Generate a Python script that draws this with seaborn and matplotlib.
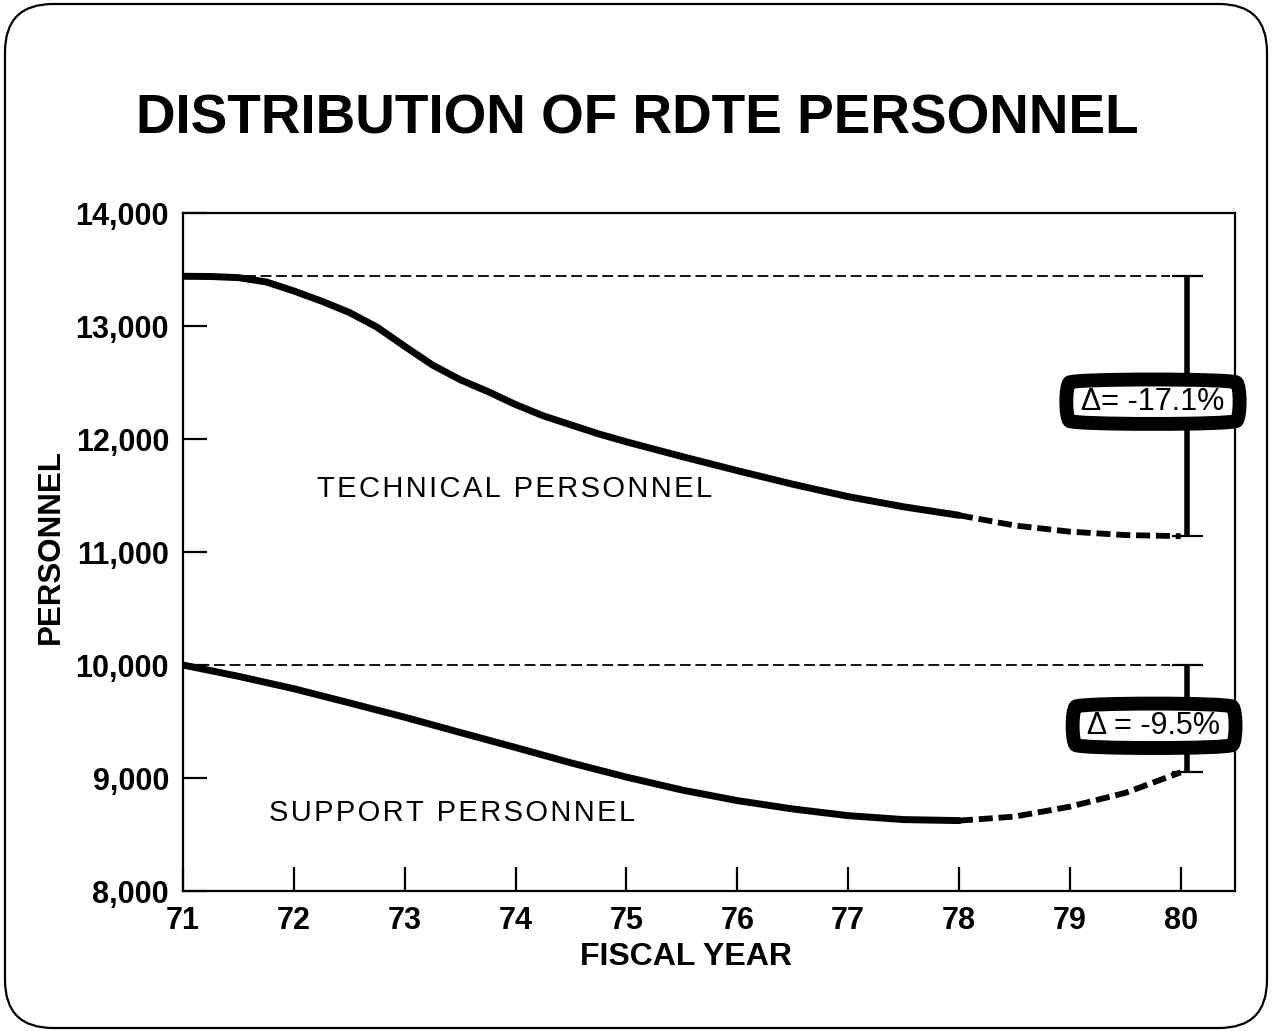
import numpy as np
import pandas as pd
import matplotlib
matplotlib.use("Agg")
import matplotlib.pyplot as plt
from matplotlib.patches import FancyBboxPatch
import seaborn as sns

# Fiscal years and personnel counts (actuals through FY78, projection FY78-80)
tech_years = [71, 71.25, 71.5, 71.75, 72, 72.25, 72.5, 72.75, 73, 73.25, 73.5, 73.75,
              74, 74.25, 74.5, 74.75, 75, 75.5, 76, 76.5, 77, 77.5, 78]
tech_values = [13440, 13438, 13428, 13390, 13310, 13220, 13120, 12990, 12820, 12655,
               12525, 12420, 12305, 12205, 12125, 12045, 11975, 11845,
               11720, 11600, 11490, 11400, 11325]
tech_proj_years = [78, 78.5, 79, 79.5, 80]
tech_proj_values = [11325, 11235, 11180, 11150, 11140]

supp_years = [71, 71.5, 72, 72.5, 73, 73.5, 74, 74.5, 75, 75.5, 76, 76.5, 77, 77.5, 78]
supp_values = [10000, 9900, 9790, 9665, 9538, 9403, 9270, 9134, 9008, 8894,
               8800, 8726, 8667, 8632, 8623]
supp_proj_years = [78, 78.5, 79, 79.5, 80]
supp_proj_values = [8623, 8658, 8746, 8868, 9050]

tech_base = 13440
supp_base = 10000

x_ticks = [71, 72, 73, 74, 75, 76, 77, 78, 79, 80]
y_ticks = [8000, 9000, 10000, 11000, 12000, 13000, 14000]
y_tick_labels = ["8,000", "9,000", "10,000", "11,000", "12,000", "13,000", "14,000"]

title = "DISTRIBUTION OF RDTE PERSONNEL"
tech_label = "TECHNICAL PERSONNEL"
supp_label = "SUPPORT PERSONNEL"

sns.set_theme(style="white")
plt.rcParams["font.family"] = ["Liberation Sans", "DejaVu Sans"]
plt.rcParams["text.color"] = "black"
plt.rcParams["axes.labelcolor"] = "black"
plt.rcParams["xtick.color"] = "black"
plt.rcParams["ytick.color"] = "black"

W, H = 1272, 1031
fig = plt.figure(figsize=(W / 100, H / 100), dpi=100)
fig.patch.set_facecolor("white")

# Rounded frame around the whole slide
frame = FancyBboxPatch((5 / W, 3 / H), (1267 - 5) / W, (1027 - 3) / H,
                       boxstyle=f"round,pad=0,rounding_size={48 / W}",
                       mutation_aspect=W / H,
                       transform=fig.transFigure, facecolor="none",
                       edgecolor="black", linewidth=1.6)
fig.patches.append(frame)

fig.text(637 / W, 1 - 119 / H, title, ha="center", va="center",
         fontsize=39.5, fontweight="bold", color="black")

ax = fig.add_axes([183 / W, 1 - 891 / H, (1235 - 183) / W, (891 - 213) / H])

def frame_of(xs, ys):
    return pd.DataFrame({"year": xs, "personnel": ys})

solid_kw = dict(color="black", linewidth=5, solid_capstyle="round",
                solid_joinstyle="round")
dash_kw = dict(color="black", linewidth=4.2, linestyle=(0, (2.4, 1.0)))

sns.lineplot(data=frame_of(tech_years, tech_values), x="year", y="personnel",
             ax=ax, sort=False, estimator=None, **solid_kw)
sns.lineplot(data=frame_of(tech_proj_years, tech_proj_values), x="year", y="personnel",
             ax=ax, sort=False, estimator=None, **dash_kw)
sns.lineplot(data=frame_of(supp_years, supp_values), x="year", y="personnel",
             ax=ax, sort=False, estimator=None, **solid_kw)
sns.lineplot(data=frame_of(supp_proj_years, supp_proj_values), x="year", y="personnel",
             ax=ax, sort=False, estimator=None, **dash_kw)

# Baseline reference lines at FY71 levels
ax.hlines([tech_base, supp_base], 71, 79.9, colors="black", linewidth=1.3,
          linestyles=[(0, (6, 2.6))])

# Change brackets with percentage call-outs
bar_x = 80.06
for top, bottom in [(tech_base, tech_proj_values[-1]), (supp_base, supp_proj_values[-1])]:
    ax.vlines(bar_x, bottom, top, colors="black", linewidth=4)
    ax.hlines([top, bottom], bar_x - 0.14, bar_x + 0.14, colors="black", linewidth=1.6)

tech_pct = (tech_proj_values[-1] - tech_base) / tech_base * 100
supp_pct = (supp_proj_values[-1] - supp_base) / supp_base * 100
box = dict(boxstyle="round4,pad=0.27", facecolor="white", edgecolor="black", linewidth=10)
ax.text(79.75, 12330, f" \u0394= {tech_pct:.1f}% ", ha="center", va="center",
        fontsize=22, bbox=box, zorder=5)
ax.text(79.76, 9462, f" \u0394 = {supp_pct:.1f}% ", ha="center", va="center",
        fontsize=22, bbox=box, zorder=5)

spaced = lambda s: "\u200a".join(s)
ax.text(73.99, 11555, spaced(tech_label), ha="center", va="center", fontsize=21)
ax.text(73.43, 8693, spaced(supp_label), ha="center", va="center", fontsize=21)

ax.set_xlim(71, 80.49)
ax.set_ylim(8000, 14000)
ax.set_xticks(x_ticks)
ax.set_xticklabels([str(x) for x in x_ticks])
ax.set_yticks(y_ticks)
ax.set_yticklabels(y_tick_labels)
ax.tick_params(axis="both", direction="in", length=17, width=1.6, color="black",
               labelsize=22, labelcolor="black", bottom=True, left=True,
               top=False, right=False)
ax.tick_params(axis="x", pad=11)
ax.tick_params(axis="y", pad=10)
for lab in ax.get_xticklabels() + ax.get_yticklabels():
    lab.set_fontweight("bold")
for sp in ax.spines.values():
    sp.set_visible(True)
    sp.set_color("black")
    sp.set_linewidth(1.6)

ax.set_xlabel("FISCAL YEAR", fontsize=23, fontweight="bold", color="black")
ax.set_ylabel("PERSONNEL", fontsize=22.5, fontweight="bold", color="black")
ax.xaxis.set_label_coords((686 - 183) / (1235 - 183), (891 - 957) / (891 - 213))
ax.yaxis.set_label_coords((51 - 183) / (1235 - 183), (891 - 547) / (891 - 213))
ax.xaxis.label.set_va("center")
ax.yaxis.label.set_va("center")

fig.savefig("out.png", dpi=100, facecolor="white")
